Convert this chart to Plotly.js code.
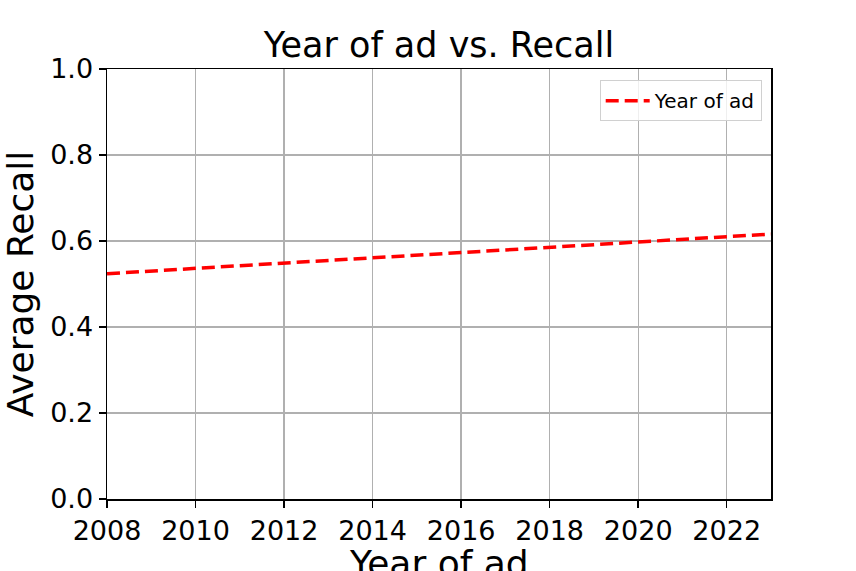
<!DOCTYPE html>
<html>
<head>
<meta charset="utf-8">
<script src="https://cdn.plot.ly/plotly-3.0.1.min.js"></script>
<style>html,body{margin:0;padding:0;background:#fff;}#chart{width:856px;height:571px;}</style>
</head>
<body>
<div id="chart"></div>
<script>
const years = [2008, 2010, 2012, 2014, 2016, 2018, 2020, 2022, 2023];
const recall = [0.524, 0.537, 0.549, 0.561, 0.573, 0.586, 0.598, 0.610, 0.616];
const xTicks = [2008, 2010, 2012, 2014, 2016, 2018, 2020, 2022];
const yTicks = [0.0, 0.2, 0.4, 0.6, 0.8, 1.0];
const yTickText = ['0.0', '0.2', '0.4', '0.6', '0.8', '1.0'];
const xTitle = 'Year of ad';

const font = 'DejaVu Sans, sans-serif';
const trace = {
  x: years, y: recall, type: 'scatter', mode: 'lines', name: 'Year of ad',
  line: {color: '#ff0000', width: 3.5, dash: '13px,6px'}
};
const layout = {
  width: 856, height: 571,
  margin: {l: 107, r: 85, t: 69, b: 72},
  paper_bgcolor: '#fff', plot_bgcolor: '#fff',
  font: {family: font, color: '#000'},
  title: {text: 'Year of ad vs. Recall', font: {size: 35, family: font, color: '#000'},
          x: 0.5, xref: 'paper', xanchor: 'center', y: 1 - 45/571, yanchor: 'middle', yref: 'container'},
  xaxis: {range: [2008, 2023], tickvals: xTicks, ticktext: xTicks.map(String),
          showgrid: true, gridcolor: '#b0b0b0', gridwidth: 1.3,
          showline: true, linecolor: '#000', linewidth: 1.5, mirror: true,
          ticks: 'outside', ticklen: 7, tickwidth: 1.5, tickcolor: '#000', tickfont: {size: 27, family: font},
          zeroline: false},
  yaxis: {range: [0, 1], tickvals: yTicks, ticktext: yTickText,
          showgrid: true, gridcolor: '#b0b0b0', gridwidth: 1.3,
          showline: true, linecolor: '#000', linewidth: 1.5, mirror: true,
          ticks: 'outside', ticklen: 7, tickwidth: 1.5, tickcolor: '#000', tickfont: {size: 27, family: font},
          zeroline: false,
          title: {text: 'Average Recall', font: {size: 36, family: font}, standoff: 8}},
  annotations: [{text: xTitle, xref: 'paper', yref: 'paper', x: 0.5, y: 0,
                 xanchor: 'center', yanchor: 'top', yshift: -42, showarrow: false,
                 font: {size: 36, family: font, color: '#000'}}],
  showlegend: true,
  legend: {x: 0.986, y: 0.974, xanchor: 'right', yanchor: 'top', itemwidth: 44,
           bgcolor: 'rgba(255,255,255,0.8)', bordercolor: '#d0d0d0', borderwidth: 1,
           font: {size: 20, family: font}}
};
Plotly.newPlot('chart', [trace], layout, {displayModeBar: false, staticPlot: true});
</script>
</body>
</html>
